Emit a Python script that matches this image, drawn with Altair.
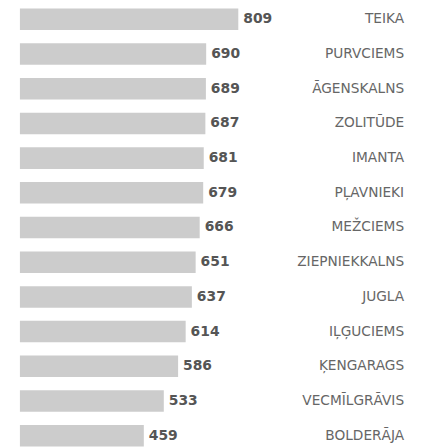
import altair as alt
import pandas as pd

names = ["TEIKA", "PURVCIEMS", "ĀGENSKALNS", "ZOLITŪDE", "IMANTA", "PĻAVNIEKI",
         "MEŽCIEMS", "ZIEPNIEKKALNS", "JUGLA", "IĻĢUCIEMS", "ĶENGARAGS",
         "VECMĪLGRĀVIS", "BOLDERĀJA"]
values = [809, 690, 689, 687, 681, 679, 666, 651, 637, 614, 586, 533, 459]

df = pd.DataFrame({"name": names, "value": values})

y = alt.Y("name:N", sort=names, axis=None,
          scale=alt.Scale(range=[-1, 440], paddingInner=0.38, paddingOuter=0))
x = alt.X("value:Q", axis=None, scale=alt.Scale(domain=[0, 1471], nice=False))

base = alt.Chart(df)

bars = base.mark_bar(color="#cccccc").encode(y=y, x=x)

vals = base.mark_text(align="left", baseline="middle", dx=5, font="DejaVu Sans",
                      fontSize=14, fontWeight="bold", color="#555555").encode(
    y=y, x=x, text="value:Q")

labels = base.mark_text(align="right", baseline="middle", font="DejaVu Sans",
                        fontSize=13.8, color="#666666").encode(
    y=y, x=alt.value(387), text="name:N")

chart = (bars + vals + labels).properties(
    width=400, height=440,
    padding={"left": 12, "top": 0, "right": 0, "bottom": 0},
    autosize=alt.AutoSizeParams(type="none"),
).configure_view(stroke=None)

chart.save("out.html", embed_options={"renderer": "svg", "actions": False})
